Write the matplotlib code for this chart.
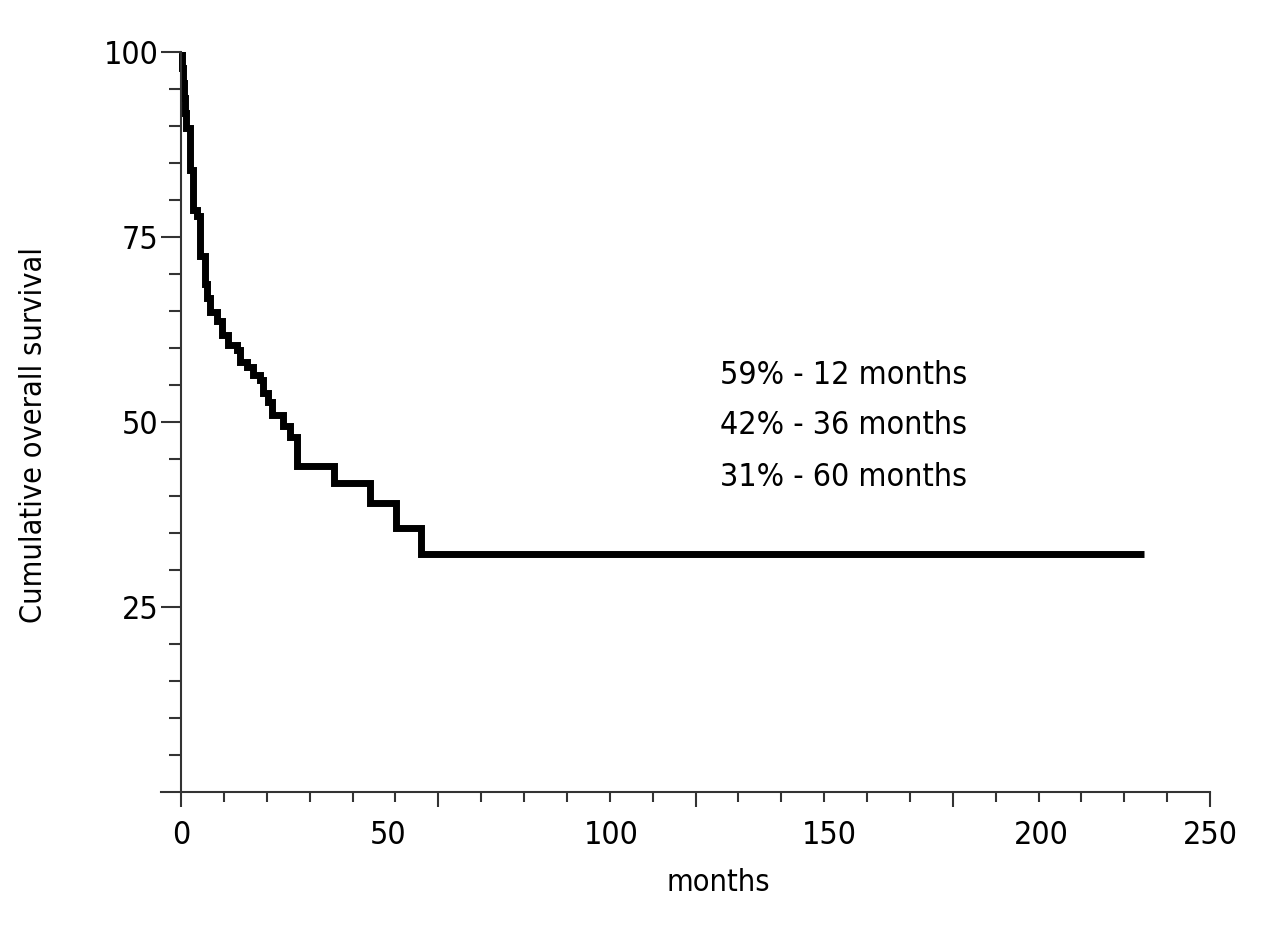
import matplotlib
matplotlib.use("Agg")
import matplotlib.pyplot as plt
from matplotlib import font_manager
from matplotlib.ticker import FixedLocator, NullFormatter

# Kaplan-Meier step data (months, survival % after each event)
times = [0, 0.3, 0.5, 0.7, 0.9, 1.1, 2.2, 2.8, 3.8, 4.6, 5.8, 6.4, 7.0,
         8.7, 9.9, 11.5, 13.5, 14.3, 16.0, 17.6, 19.2, 20.0, 21.2, 22.0,
         24.8, 26.5, 28.2, 37.2, 45.9, 52.2, 58.2, 234]
survival = [100, 97.9, 95.8, 93.8, 91.7, 89.7, 84.1, 78.6, 77.8, 72.4, 68.6,
            66.8, 64.9, 63.6, 61.8, 60.4, 59.7, 58.1, 57.4, 56.4, 55.7, 53.9,
            52.7, 51.0, 49.5, 48.0, 44.0, 41.8, 39.1, 35.7, 32.2, 32.2]

notes = ["59% - 12 months", "42% - 36 months", "31% - 60 months"]

x_labels = ["0", "50", "100", "150", "200", "250"]
x_label_pos = [0, 50.2, 104.6, 157.5, 209, 250]
y_major = [25, 50, 75, 100]

names = {f.name for f in font_manager.fontManager.ttflist}
family = "Liberation Sans Narrow" if "Liberation Sans Narrow" in names else "DejaVu Sans"
plt.rcParams["font.family"] = [family, "DejaVu Sans"]
if family == "DejaVu Sans":
    plt.rcParams["font.stretch"] = "condensed"

FS = 23
axis_color = "#333333"

fig = plt.figure(figsize=(12.8, 9.42), dpi=100)
ax = fig.add_axes([161 / 1280, 1 - 792 / 942, 1049 / 1280, 740 / 942])

ax.step(times, survival, where="post", color="black", lw=5,
        solid_joinstyle="miter", solid_capstyle="butt")

ax.set_xlim(-4.86, 250)
ax.set_ylim(0, 100)

for s in ("top", "right"):
    ax.spines[s].set_visible(False)
ax.spines["left"].set_position(("data", 0))
for s in ("left", "bottom"):
    ax.spines[s].set_color(axis_color)
    ax.spines[s].set_linewidth(1.5)

# y ticks
ax.yaxis.set_major_locator(FixedLocator(y_major))
ax.yaxis.set_minor_locator(FixedLocator([v for v in range(5, 100, 5) if v not in y_major]))
ax.tick_params(axis="y", which="major", length=14.4, width=1.5, color=axis_color,
               labelsize=FS, pad=2)
ax.tick_params(axis="y", which="minor", length=8.6, width=1.5, color=axis_color)

# x ticks: 24 intervals over axis, long tick every 6th
step = 250 / 24
ax.xaxis.set_major_locator(FixedLocator([i * step for i in range(0, 25, 6)]))
ax.xaxis.set_minor_locator(FixedLocator([i * step for i in range(25) if i % 6]))
ax.xaxis.set_major_formatter(NullFormatter())
ax.tick_params(axis="x", which="major", length=10.8, width=1.5, color=axis_color)
ax.tick_params(axis="x", which="minor", length=7.2, width=1.5, color=axis_color)

sec = ax.secondary_xaxis("bottom")
sec.spines["bottom"].set_visible(False)
sec.set_xticks(x_label_pos, x_labels)
sec.tick_params(length=0, labelsize=FS, pad=20.5)

ax.set_xlabel("months", fontsize=22)
ax.xaxis.set_label_coords((718 - 161) / 1049, (792 - 868) / 740)
ax.set_ylabel("Cumulative overall survival", fontsize=22)
ax.yaxis.set_label_coords((48 - 161) / 1049, (792 - 435) / 740)

for i, t in enumerate(notes):
    ax.text((720 - 161) / 1049, (792 - 375) / 740 - i * 51 / 740, t,
            transform=ax.transAxes, fontsize=FS, va="center", ha="left")

fig.savefig("out.png", dpi=100)
